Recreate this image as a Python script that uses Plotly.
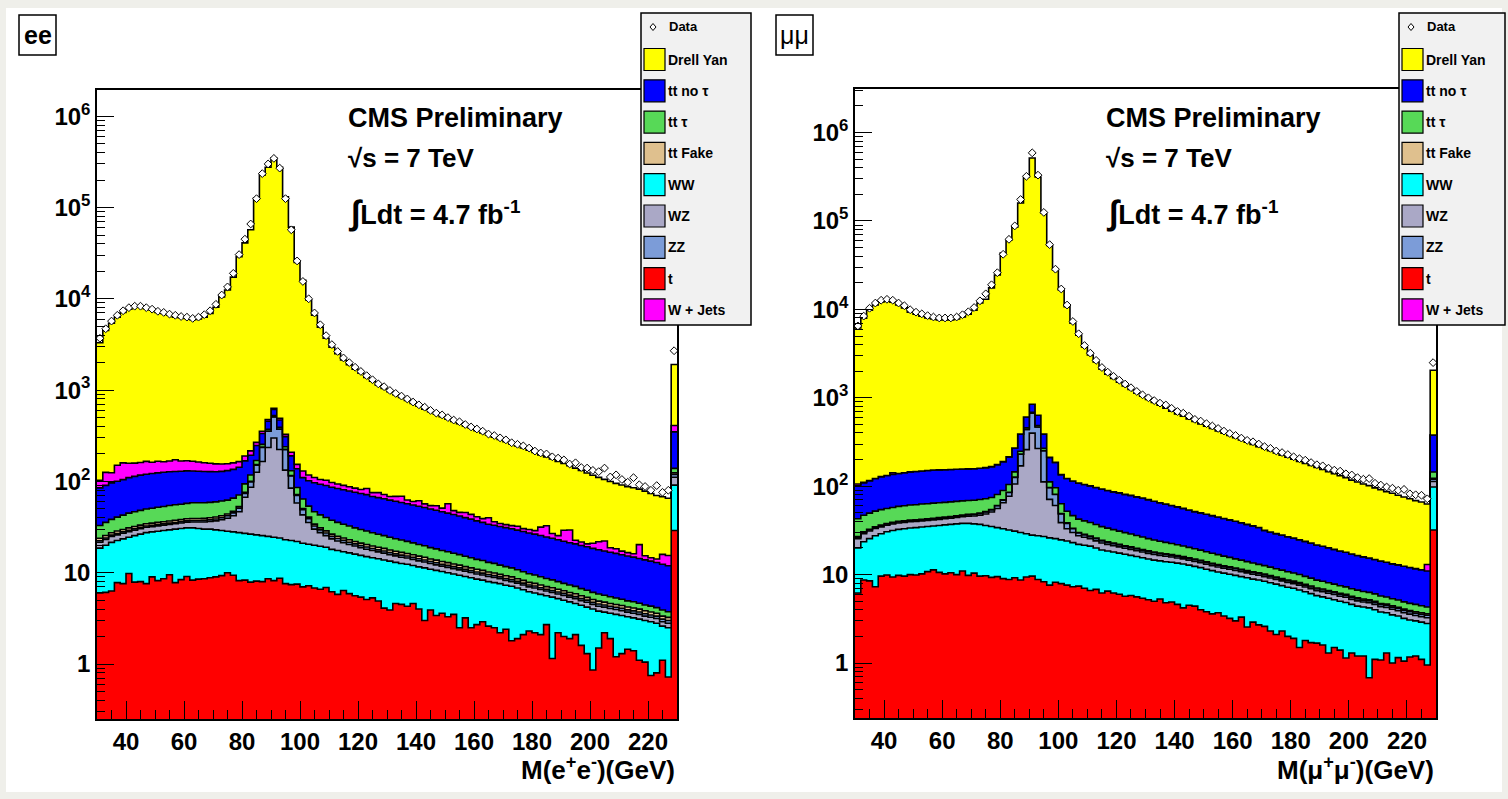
import numpy as np
import plotly.graph_objects as go

W, H = 1508, 799
FONT = "Liberation Sans"

# ---------------- data (100 bins of 2 GeV, 30-230 GeV; last bin holds overflow) ----------------
bin_edges = list(range(30, 232, 2))

ee_t = [6.0, 6.1, 6.3, 7.8, 7.6, 9.8, 7.9, 8.0, 7.6, 9.0,
        8.2, 8.6, 9.5, 7.8, 8.4, 9.1, 8.3, 8.5, 8.6, 8.8,
        9.0, 9.3, 10.0, 9.4, 8.2, 8.3, 7.9, 8.1, 8.0, 8.6,
        8.2, 8.7, 7.6, 7.4, 7.5, 7.0, 7.2, 6.8, 6.6, 6.9,
        6.2, 5.8, 6.4, 5.9, 5.6, 5.4, 5.1, 5.3, 4.9, 4.1,
        3.9, 4.6, 4.5, 4.3, 4.6, 4.0, 3.0, 3.9, 3.4, 3.6,
        3.3, 3.5, 2.5, 3.2, 2.5, 2.7, 2.9, 2.6, 2.5, 2.2,
        2.4, 1.8, 1.9, 2.1, 2.3, 2.2, 2.1, 2.7, 1.15, 2.2,
        2.0, 1.9, 2.1, 1.6, 1.3, 0.86, 1.5, 2.2, 1.9, 1.2,
        1.3, 1.45, 1.4, 1.1, 1.05, 0.75, 0.8, 1.1, 0.72, 29]
ee_ww = [12.6, 13.9, 15.2, 14.7, 15.9, 14.7, 17.6, 18.5, 19.9, 19.0,
         20.3, 20.4, 20.0, 22.2, 22.1, 21.9, 22.7, 22.0, 21.4, 21.2,
         20.5, 19.7, 18.5, 18.6, 19.3, 18.7, 18.6, 17.9, 17.5, 16.4,
         16.3, 15.3, 15.4, 15.1, 14.5, 14.0, 13.3, 13.2, 12.9, 12.1,
         11.8, 11.7, 10.6, 10.6, 10.4, 10.1, 9.9, 9.3, 9.3, 9.7,
         9.5, 8.4, 8.1, 8.1, 7.4, 7.6, 8.3, 7.0, 7.2, 6.7,
         6.7, 6.2, 6.9, 5.9, 6.3, 5.8, 5.4, 5.4, 5.3, 5.4,
         4.9, 5.3, 4.9, 4.4, 3.9, 3.8, 3.7, 2.9, 4.25, 3.0,
         3.0, 2.9, 2.5, 2.8, 2.9, 3.14, 2.3, 1.5, 1.7, 2.3,
         2.1, 1.85, 1.8, 2.0, 1.95, 2.15, 2.0, 1.5, 1.78, 62]
ee_wz = [3.0, 3.2, 3.4, 3.5, 3.6, 3.7, 3.8, 3.9, 4.0, 4.0,
         4.1, 4.2, 4.3, 4.4, 4.5, 4.8, 5.0, 5.5, 6.0, 6.5,
         7.5, 9.0, 11, 14, 19, 40, 60, 100, 140, 210,
         275, 200, 110, 62, 36, 22, 15, 10, 8.0, 6.5,
         5.5, 4.8, 4.3, 3.9, 3.6, 3.3, 3.1, 2.9, 2.7, 2.6,
         2.4, 2.3, 2.2, 2.1, 2.0, 1.9, 1.8, 1.7, 1.6, 1.5,
         1.45, 1.4, 1.35, 1.3, 1.25, 1.2, 1.15, 1.1, 1.05, 1.0,
         0.95, 0.9, 0.9, 0.85, 0.8, 0.8, 0.75, 0.7, 0.7, 0.65,
         0.65, 0.6, 0.6, 0.55, 0.55, 0.5, 0.5, 0.5, 0.45, 0.45,
         0.45, 0.4, 0.4, 0.4, 0.35, 0.35, 0.35, 0.3, 0.3, 20]
ee_zz = [0.8, 0.8, 0.9, 0.9, 0.9, 1.0, 1.0, 1.0, 1.0, 1.0,
         1.1, 1.1, 1.1, 1.1, 1.2, 1.2, 1.3, 1.3, 1.4, 1.5,
         1.7, 2.0, 2.5, 3.2, 4.5, 7, 12, 25, 70, 120,
         210, 150, 90, 30, 12, 6, 3.5, 2.5, 2.0, 1.7,
         1.5, 1.4, 1.3, 1.2, 1.1, 1.0, 1.0, 0.95, 0.9, 0.9,
         0.85, 0.8, 0.8, 0.75, 0.75, 0.7, 0.7, 0.65, 0.65, 0.6,
         0.6, 0.55, 0.55, 0.5, 0.5, 0.5, 0.45, 0.45, 0.45, 0.4,
         0.4, 0.4, 0.35, 0.35, 0.35, 0.35, 0.3, 0.3, 0.3, 0.3,
         0.3, 0.28, 0.28, 0.26, 0.26, 0.25, 0.25, 0.24, 0.24, 0.23,
         0.23, 0.22, 0.22, 0.21, 0.21, 0.2, 0.2, 0.2, 0.2, 8]
ee_ttfake = [1.5, 1.6, 1.6, 1.7, 1.7, 1.8, 1.8, 1.8, 1.9, 1.9,
             1.9, 1.9, 2.0, 2.0, 2.0, 2.0, 2.0, 2.0, 2.0, 2.0,
             2.0, 2.0, 1.9, 1.9, 1.9, 1.9, 1.8, 1.8, 1.8, 1.8,
             1.8, 1.7, 1.7, 1.7, 1.7, 1.6, 1.6, 1.6, 1.5, 1.5,
             1.5, 1.4, 1.4, 1.4, 1.3, 1.3, 1.3, 1.2, 1.2, 1.2,
             1.1, 1.1, 1.1, 1.0, 1.0, 1.0, 0.95, 0.9, 0.9, 0.85,
             0.85, 0.8, 0.8, 0.75, 0.75, 0.7, 0.7, 0.65, 0.65, 0.6,
             0.6, 0.6, 0.55, 0.55, 0.5, 0.5, 0.5, 0.45, 0.45, 0.45,
             0.4, 0.4, 0.4, 0.38, 0.36, 0.35, 0.34, 0.33, 0.32, 0.31,
             0.3, 0.3, 0.29, 0.28, 0.27, 0.26, 0.25, 0.25, 0.24, 5]
ee_tttau = [9, 10, 11, 12, 13, 14, 14.5, 15, 15.5, 16,
            16.5, 17, 17.5, 18, 18, 18.5, 19, 19, 19, 19,
            19, 19, 18.5, 18.5, 18, 18, 17.5, 17, 17, 16.5,
            16, 15.5, 15, 14.5, 14, 13.5, 13, 12.5, 12, 11.5,
            11, 10.5, 10, 9.5, 9, 8.6, 8.2, 7.8, 7.4, 7.0,
            6.7, 6.4, 6.1, 5.8, 5.5, 5.2, 5.0, 4.7, 4.5, 4.3,
            4.1, 3.9, 3.7, 3.5, 3.3, 3.1, 3.0, 2.8, 2.7, 2.5,
            2.4, 2.3, 2.2, 2.0, 1.9, 1.8, 1.7, 1.6, 1.5, 1.4,
            1.3, 1.25, 1.2, 1.1, 1.05, 1.0, 0.95, 0.9, 0.85, 0.8,
            0.75, 0.7, 0.7, 0.65, 0.6, 0.6, 0.55, 0.55, 0.5, 15]
ee_ttnotau = [52, 55, 58, 60, 62, 65, 67, 69, 70, 71,
              72, 73, 73, 73, 73, 73, 72, 71, 70, 69,
              68, 68, 69, 70, 72, 74, 76, 78, 80, 82,
              85, 80, 70, 60, 52, 46, 48, 50, 50, 50,
              49, 48, 47, 46, 45, 44, 43, 41, 40, 39,
              38, 37, 36, 35, 34, 33, 32, 31, 30, 29,
              28, 27, 26, 25, 24, 23, 22, 21, 20.5, 20,
              19.5, 19, 18.5, 18, 17.5, 17, 16.5, 16, 15.5, 15,
              14.5, 14, 13.6, 13.2, 12.8, 12.4, 12, 11.6, 11.3, 11,
              10.6, 10.3, 10, 9.7, 9.4, 9.1, 8.8, 8.5, 8.2, 210]
ee_wjets = [18, 35, 28, 50, 55, 48, 45, 44, 46, 40,
            42, 38, 40, 44, 38, 38, 36, 34, 32, 30,
            28, 26, 25, 24, 22, 22, 22, 20, 20, 20,
            20, 20, 18, 18, 16, 20, 16, 14, 12, 13,
            11, 10, 9.5, 9, 8.5, 8, 12, 7, 9, 7.5,
            6, 8, 10, 5.5, 5, 8, 5, 4.5, 6, 4.5,
            12, 4.5, 4, 5.5, 5, 4, 3.5, 6, 3, 2.5,
            2.5, 2.5, 3, 2.2, 2.5, 2.5, 6, 8, 3, 2.5,
            7, 8, 2, 1.8, 1.5, 2.5, 4, 5, 2, 2,
            1.5, 1.4, 1.3, 6, 1.5, 1.2, 1.2, 3.5, 3.5, 60]
ee_dy = [3200, 4370, 5280, 6150, 6940, 7540, 7940, 7940, 7630, 7340,
         6930, 6740, 6430, 6130, 6030, 5930, 5730, 5840, 6140, 6740,
         7940, 10350, 12340, 17140, 28840, 40810, 56780, 126730, 227650, 275520,
         347370, 275510, 130670, 60790, 24850, 15870, 9580, 6490, 4795, 3597,
         2852, 2406, 2050, 1812, 1615, 1448, 1296, 1175, 1055, 968,
         892, 821, 761, 707, 655, 604, 563, 526, 491, 459,
         423, 407, 384, 359, 341, 319, 301, 282, 269, 253,
         238, 225, 213, 202, 190, 179, 164, 153, 149, 140,
         128, 119, 117, 110, 103, 96, 89, 83, 81, 77,
         74, 71, 69, 62, 63, 59, 56, 52, 50, 1500]
ee_data = [3700, 4700, 5700, 6600, 7400, 8000, 8300, 8300, 8000, 7700,
           7300, 7100, 6800, 6600, 6400, 6300, 6100, 6300, 6700, 7400,
           8700, 11000, 13500, 19000, 30500, 45000, 66000, 125000, 235000, 300000,
           345000, 270000, 125000, 57000, 26000, 15500, 10000, 7000, 5200, 3950,
           3150, 2650, 2250, 2000, 1780, 1600, 1440, 1300, 1170, 1090,
           990, 920, 860, 800, 740, 690, 650, 600, 560, 535,
           500, 470, 450, 420, 395, 375, 355, 330, 318, 300,
           285, 265, 255, 245, 232, 215, 205, 200, 186, 180,
           172, 155, 160, 142, 140, 132, 128, 140, 112, 118,
           105, 98, 110, 92, 88, 80, 90, 76, 80, 2700]

mm_t = [6.2, 8.7, 8.5, 7.3, 9.6, 9.9, 9.4, 9.8, 9.6, 10.0,
        9.9, 10.2, 10.8, 11.3, 10.6, 10.2, 10.5, 10.0, 11.0, 9.8,
        10.4, 9.6, 9.7, 9.3, 9.5, 9.0, 8.8, 9.2, 8.7, 9.4,
        9.6, 8.8, 8.3, 7.6, 8.2, 7.9, 7.6, 7.3, 7.4, 7.0,
        6.6, 6.8, 6.2, 6.5, 6.2, 6.0, 5.7, 5.8, 5.6, 5.4,
        5.2, 5.0, 5.3, 4.8, 4.9, 4.6, 4.2, 4.5, 4.4, 4.0,
        3.8, 3.6, 3.7, 3.4, 3.2, 3.0, 3.3, 2.55, 2.9, 2.7,
        2.6, 2.3, 2.1, 2.3, 2.0, 1.9, 1.5, 1.8, 1.7, 1.68,
        1.6, 1.3, 1.5, 1.4, 1.14, 1.3, 1.2, 1.2, 0.68, 1.1,
        1.08, 1.3, 1.0, 1.15, 1.05, 1.17, 1.2, 1.1, 0.95, 32]
mm_ww = [13.8, 14.8, 17.0, 20.2, 19.4, 20.6, 22.1, 22.7, 23.4, 23.7,
         24.1, 24.3, 24.2, 24.2, 25.4, 26.3, 26.5, 27.5, 27.0, 28.2,
         27.1, 27.4, 26.3, 25.7, 24.5, 24.0, 23.2, 21.8, 21.3, 19.6,
         18.4, 18.7, 18.7, 18.4, 17.3, 16.8, 16.4, 15.7, 14.6, 14.5,
         14.4, 13.2, 12.8, 12.0, 11.8, 11.5, 11.3, 10.7, 10.4, 10.1,
         9.8, 9.6, 9.0, 9.2, 8.9, 8.9, 9.0, 8.3, 8.0, 8.0,
         7.7, 7.5, 7.0, 7.0, 6.9, 6.8, 6.2, 6.65, 6.0, 6.0,
         5.8, 5.8, 5.7, 5.2, 5.2, 5.1, 5.2, 4.6, 4.4, 4.1,
         4.0, 4.1, 3.7, 3.6, 3.7, 3.3, 3.2, 3.1, 3.52, 2.9,
         2.7, 2.4, 2.5, 2.25, 2.15, 1.9, 1.8, 1.8, 1.85, 66]
mm_wz = [5.5, 5.6, 5.6, 5.7, 5.7, 5.8, 5.8, 5.9, 5.9, 6.0,
         6.0, 6.0, 6.1, 6.1, 6.2, 6.3, 6.5, 6.8, 7.2, 7.8,
         8.6, 10, 12.5, 16, 22, 32, 45, 75, 140, 230,
         370, 240, 85, 45, 35, 14, 9, 7, 5.5, 5.0,
         4.5, 4.1, 3.8, 3.5, 3.3, 3.1, 2.9, 2.8, 2.6, 2.5,
         2.4, 2.3, 2.2, 2.1, 2.0, 1.9, 1.85, 1.8, 1.7, 1.65,
         1.6, 1.55, 1.5, 1.45, 1.4, 1.35, 1.3, 1.25, 1.2, 1.15,
         1.1, 1.05, 1.0, 1.0, 0.95, 0.9, 0.9, 0.85, 0.85, 0.8,
         0.8, 0.75, 0.75, 0.7, 0.7, 0.65, 0.65, 0.6, 0.6, 0.6,
         0.55, 0.55, 0.55, 0.5, 0.5, 0.5, 0.45, 0.45, 0.45, 15]
mm_zz = [0.9, 0.9, 1.0, 1.0, 1.0, 1.0, 1.1, 1.1, 1.1, 1.1,
         1.2, 1.2, 1.2, 1.2, 1.3, 1.3, 1.4, 1.4, 1.5, 1.6,
         1.7, 2.0, 2.5, 3.0, 4.0, 4.5, 8, 20, 60, 180,
         270, 200, 140, 25, 20, 10, 5, 3, 2, 1.6,
         1.4, 1.3, 1.2, 1.1, 1.05, 1.0, 0.95, 0.9, 0.9, 0.85,
         0.8, 0.8, 0.75, 0.75, 0.7, 0.7, 0.65, 0.65, 0.6, 0.6,
         0.55, 0.55, 0.55, 0.5, 0.5, 0.48, 0.46, 0.44, 0.42, 0.4,
         0.4, 0.38, 0.36, 0.35, 0.34, 0.33, 0.32, 0.31, 0.3, 0.3,
         0.29, 0.28, 0.28, 0.27, 0.27, 0.26, 0.26, 0.25, 0.25, 0.25,
         0.24, 0.24, 0.24, 0.23, 0.23, 0.23, 0.22, 0.22, 0.22, 7]
mm_ttfake = [0.5, 0.5, 0.55, 0.55, 0.6, 0.6, 0.6, 0.6, 0.6, 0.6,
             0.6, 0.6, 0.6, 0.6, 0.6, 0.6, 0.6, 0.6, 0.6, 0.6,
             0.6, 0.6, 0.58, 0.58, 0.56, 0.56, 0.55, 0.55, 0.54, 0.54,
             0.53, 0.52, 0.52, 0.51, 0.5, 0.5, 0.49, 0.48, 0.47, 0.46,
             0.45, 0.44, 0.43, 0.42, 0.41, 0.4, 0.39, 0.38, 0.37, 0.36,
             0.35, 0.34, 0.33, 0.32, 0.31, 0.3, 0.3, 0.29, 0.28, 0.28,
             0.27, 0.26, 0.26, 0.25, 0.25, 0.24, 0.24, 0.23, 0.23, 0.22,
             0.22, 0.21, 0.21, 0.2, 0.2, 0.2, 0.19, 0.19, 0.18, 0.18,
             0.18, 0.17, 0.17, 0.17, 0.16, 0.16, 0.16, 0.15, 0.15, 0.15,
             0.15, 0.14, 0.14, 0.14, 0.14, 0.13, 0.13, 0.13, 0.13, 3]
mm_tttau = [16, 16.5, 17, 17.5, 18, 18, 18.5, 19, 19.5, 20,
            20, 20.5, 20.5, 21, 21, 21, 21, 21, 21, 21,
            21, 21, 20.5, 20, 20, 19.5, 19, 18.5, 18, 17.5,
            17, 16.5, 16, 15.5, 15, 14, 13.5, 13, 12.5, 12,
            11.5, 11, 10.5, 10, 9.5, 9, 8.6, 8.2, 7.8, 7.4,
            7, 6.6, 6.3, 6, 5.7, 5.4, 5.1, 4.8, 4.6, 4.4,
            4.2, 4.0, 3.8, 3.6, 3.4, 3.2, 3.1, 2.9, 2.8, 2.6,
            2.5, 2.4, 2.3, 2.2, 2.1, 2.0, 1.9, 1.8, 1.7, 1.6,
            1.55, 1.5, 1.4, 1.35, 1.3, 1.25, 1.2, 1.15, 1.1, 1.05,
            1.0, 0.95, 0.9, 0.9, 0.85, 0.8, 0.8, 0.75, 0.7, 22]
mm_ttnotau = [58, 62, 66, 70, 74, 76, 78, 80, 82, 84,
              85, 86, 87, 88, 88, 88, 88, 88, 88, 88,
              88, 89, 90, 92, 95, 100, 110, 125, 140, 150,
              160, 150, 120, 100, 90, 72, 70, 68, 66, 64,
              62, 60, 58, 56, 54, 53, 51, 50, 48, 47,
              45, 43, 41, 39.5, 38, 36.5, 35, 33.5, 32, 31,
              30, 29, 28, 27, 26, 25, 24, 23, 22, 21,
              19, 18.2, 17.4, 16.7, 16, 15.4, 14.8, 14.2, 13.6, 13,
              12.5, 12, 11.5, 11, 10.6, 10.2, 9.8, 9.4, 9.1, 8.8,
              8.5, 8.2, 7.9, 7.7, 7.5, 7.3, 7.1, 6.9, 6.7, 235]
mm_wjets = [5, 2, 0, 0, 0, 0, 6, 0, 0, 0,
            0, 0, 0, 0, 0, 0, 0, 0, 0, 0,
            0, 0, 0, 0, 0, 0, 0, 0, 0, 0,
            0, 0, 0, 0, 0, 0, 0, 0, 0, 0,
            0, 0, 0, 0, 0, 0, 0, 0, 0, 0,
            0, 0, 0, 0, 0, 0, 0, 0, 0, 0,
            0, 0, 0, 0, 0, 0, 0, 0, 0, 0,
            0, 0, 0, 0, 0, 0, 0, 0, 0, 0,
            0, 0, 0, 0, 0, 0, 0, 0, 0, 0,
            0, 0, 0, 0, 0, 0, 0, 0, 2, 0]
mm_dy = [6044, 7839, 9684, 11078, 11972, 12268, 11958, 11061, 10258, 9155,
         8653, 8251, 7850, 7648, 7447, 7446, 7445, 7645, 8044, 8643,
         9643, 11640, 12838, 17333, 24324, 43310, 60785, 84730, 159611, 314393,
         514154, 314365, 122611, 52788, 27814, 16465, 10578, 6886, 4992, 3645,
         2949, 2453, 2007, 1760, 1564, 1416, 1279, 1161, 1054, 966,
         888, 821, 758, 701, 647, 599, 562, 524, 490, 457,
         429, 403, 377, 354, 333, 313, 294, 278, 261, 246,
         235, 222, 209, 197, 186, 176, 166, 157, 149, 141,
         134, 126, 119, 113, 107, 100, 95, 90, 86, 81,
         77, 73, 70, 66, 63, 60, 57, 55, 50, 1670]
mm_data = [6500, 8400, 10300, 11800, 12700, 13000, 12700, 11800, 11000, 9900,
           9300, 8900, 8500, 8200, 8000, 8000, 8000, 8200, 8700, 9400,
           10500, 12500, 15000, 19000, 26000, 42000, 62000, 88000, 175000, 320000,
           590000, 330000, 125000, 54000, 28500, 17000, 11200, 7300, 5300, 3900,
           3200, 2650, 2200, 1950, 1750, 1580, 1430, 1300, 1180, 1080,
           1000, 930, 870, 830, 760, 700, 670, 620, 570, 545,
           510, 480, 450, 420, 395, 375, 350, 330, 318, 300,
           280, 268, 250, 240, 228, 215, 205, 197, 185, 175,
           170, 160, 152, 148, 138, 134, 125, 120, 122, 108,
           103, 98, 95, 90, 92, 82, 80, 79, 72, 2500]

x_tick_vals = [40, 60, 80, 100, 120, 140, 160, 180, 200, 220]
y_tick_vals = [1, 10, 100, 1000, 10000, 100000, 1000000]
y_tick_text = ["1", "10", "10<sup>2</sup>", "10<sup>3</sup>", "10<sup>4</sup>",
               "10<sup>5</sup>", "10<sup>6</sup>"]

# stacking order (bottom -> top) and colours
stack_names = ["t", "WW", "WZ", "ZZ", "tt Fake", "tt \u03c4", "tt no \u03c4", "W + Jets", "Drell Yan"]
stack_colors = ["#ff0000", "#00ffff", "#aaa8c6", "#7c9cd8", "#dfc08e", "#57d957",
                "#0000ff", "#ff00ff", "#ffff00"]
legend_names = ["Drell Yan", "tt no \u03c4", "tt \u03c4", "tt Fake", "WW", "WZ", "ZZ", "t", "W + Jets"]
legend_colors = ["#ffff00", "#0000ff", "#57d957", "#dfc08e", "#00ffff", "#aaa8c6",
                 "#7c9cd8", "#ff0000", "#ff00ff"]

panels = [
    dict(xa="x", ya="y",
         comps=[ee_t, ee_ww, ee_wz, ee_zz, ee_ttfake, ee_tttau, ee_ttnotau, ee_wjets, ee_dy],
         data=ee_data, xpx=(97, 677), ypx=(90, 719), yrange=(-0.602, 6.287),
         tag="ee", tagbold=True, tagbox=(19, 15, 56, 55),
         xtitle="M(e<sup>+</sup>e<sup>-</sup>)(GeV)", legx=641, textx=346),
    dict(xa="x2", ya="y2",
         comps=[mm_t, mm_ww, mm_wz, mm_zz, mm_ttfake, mm_tttau, mm_ttnotau, mm_wjets, mm_dy],
         data=mm_data, xpx=(855, 1436), ypx=(89, 718), yrange=(-0.622, 6.493),
         tag="\u03bc\u03bc", tagbold=False, tagbox=(776, 15, 813, 55),
         xtitle="M(\u03bc<sup>+</sup>\u03bc<sup>-</sup>)(GeV)", legx=1399, textx=1104),
]


def fx(p):
    return p / W


def fy(p):
    return 1 - p / H


fig = go.Figure()
shapes = []
annotations = []
edges = np.array(bin_edges, dtype=float)
centers = edges[:-1] + 1.0

for k, p in enumerate(panels):
    xa, ya = p["xa"], p["ya"]
    fig.add_trace(go.Scatter(x=edges, y=np.full(len(edges), 1e-3), mode="lines",
                             line=dict(width=0, shape="hv"), hoverinfo="skip",
                             showlegend=False, xaxis=xa, yaxis=ya))
    cum = np.zeros(len(edges) - 1)
    for name, vals, col in zip(stack_names, p["comps"], stack_colors):
        cum = cum + np.array(vals, dtype=float)
        fig.add_trace(go.Scatter(x=edges, y=np.append(cum, cum[-1]), mode="lines",
                                 line=dict(color="black", width=1.6, shape="hv"),
                                 fill="tonexty", fillcolor=col, name=name,
                                 showlegend=False, xaxis=xa, yaxis=ya))
    fig.add_trace(go.Scatter(x=centers, y=p["data"], mode="markers", name="Data",
                             marker=dict(symbol="diamond", size=6, color="white",
                                         line=dict(color="black", width=1)),
                             showlegend=False, xaxis=xa, yaxis=ya))

    x0, x1 = p["xpx"]
    y0, y1 = p["ypx"]
    xkey = "xaxis" if k == 0 else "xaxis2"
    ykey = "yaxis" if k == 0 else "yaxis2"
    ylo = 10 ** p["yrange"][0]
    yhi = 10 ** p["yrange"][1]
    yminor = [m * 10 ** d for d in range(-1, 7) for m in range(2, 10) if ylo < m * 10 ** d < yhi]
    fig.update_layout({
        xkey: dict(domain=[fx(x0), fx(x1)], range=[30, 230], anchor=ya,
                   tickmode="array", tickvals=x_tick_vals,
                   ticks="inside", ticklen=18, tickwidth=1.3, tickcolor="black",
                   showline=True, mirror=True, linecolor="black", linewidth=1.5,
                   showgrid=False, zeroline=False,
                   tickfont=dict(family=FONT, size=24, color="black", weight="bold"),
                   minor=dict(tickmode="array",
                              tickvals=[v for v in range(35, 231, 5) if v % 20 != 0],
                              ticks="inside", ticklen=9, tickwidth=1.3, tickcolor="black")),
        ykey: dict(domain=[fy(y1), fy(y0)], type="log", range=list(p["yrange"]), anchor=xa,
                   tickmode="array", tickvals=y_tick_vals, ticktext=y_tick_text,
                   ticks="inside", ticklen=17, tickwidth=1.3, tickcolor="black",
                   showline=True, mirror=True, linecolor="black", linewidth=1.5,
                   showgrid=False, zeroline=False,
                   tickfont=dict(family=FONT, size=24, color="black", weight="bold"),
                   minor=dict(tickmode="array", tickvals=yminor,
                              ticks="inside", ticklen=8, tickwidth=1.3, tickcolor="black")),
    })

    # channel tag box
    bx0, by0, bx1, by1 = p["tagbox"]
    shapes.append(dict(type="rect", xref="paper", yref="paper", x0=fx(bx0), x1=fx(bx1),
                       y0=fy(by1), y1=fy(by0), line=dict(color="black", width=1.5),
                       fillcolor="white", layer="above"))
    annotations.append(dict(xref="paper", yref="paper", x=fx((bx0 + bx1) / 2), y=fy((by0 + by1) / 2),
                            text=p["tag"], showarrow=False, xanchor="center", yanchor="middle",
                            font=dict(family=FONT, size=25, color="black",
                                      weight="bold" if p["tagbold"] else "normal")))

    # CMS labels
    tx = p["textx"]
    annotations.append(dict(xref="paper", yref="paper", x=fx(tx), y=fy(118), text="CMS Preliminary",
                            showarrow=False, xanchor="left", yanchor="middle",
                            font=dict(family=FONT, size=27, color="black", weight="bold")))
    annotations.append(dict(xref="paper", yref="paper", x=fx(tx), y=fy(158), text="\u221as = 7 TeV",
                            showarrow=False, xanchor="left", yanchor="middle",
                            font=dict(family=FONT, size=26, color="black", weight="bold")))
    annotations.append(dict(xref="paper", yref="paper", x=fx(tx), y=fy(212),
                            text="<span style='font-size:34px'>\u222b</span>Ldt = 4.7 fb<sup>-1</sup>",
                            showarrow=False, xanchor="left", yanchor="middle",
                            font=dict(family=FONT, size=27, color="black", weight="bold")))
    # axis title
    annotations.append(dict(xref="paper", yref="paper", x=fx(x1), y=fy(768), text=p["xtitle"],
                            showarrow=False, xanchor="right", yanchor="middle",
                            font=dict(family=FONT, size=26, color="black", weight="bold")))

    # legend box
    lx = p["legx"]
    lw = 110 if k == 0 else 106
    shapes.append(dict(type="rect", xref="paper", yref="paper", x0=fx(lx), x1=fx(lx + lw),
                       y0=fy(325), y1=fy(13), line=dict(color="black", width=1.5),
                       fillcolor="#f1f1f1", layer="above"))
    # data entry (open diamond)
    cx, cy = lx + 12, 27
    shapes.append(dict(type="path", xref="paper", yref="paper",
                       path=f"M {fx(cx)} {fy(cy - 3.5)} L {fx(cx + 3)} {fy(cy)} L {fx(cx)} {fy(cy + 3.5)} L {fx(cx - 3)} {fy(cy)} Z",
                       line=dict(color="black", width=1), fillcolor="white", layer="above"))
    annotations.append(dict(xref="paper", yref="paper", x=fx(lx + 26), y=fy(cy), text="Data",
                            showarrow=False, xanchor="left", yanchor="middle",
                            font=dict(family=FONT, size=13, color="black", weight="bold")))
    for j, (nm, col) in enumerate(zip(legend_names, legend_colors)):
        yc = 59.5 + j * 31.3
        shapes.append(dict(type="rect", xref="paper", yref="paper", x0=fx(lx + 3), x1=fx(lx + 24),
                           y0=fy(yc + 11), y1=fy(yc - 11), line=dict(color="black", width=1.2),
                           fillcolor=col, layer="above"))
        annotations.append(dict(xref="paper", yref="paper", x=fx(lx + 25), y=fy(yc), text=nm,
                                showarrow=False, xanchor="left", yanchor="middle",
                                font=dict(family=FONT, size=14, color="black", weight="bold")))

# light grey page border
border = "#efefea"
for (a, b, c, d) in [(0, 0, W, 8), (0, 0, 6, H), (1502, 0, W, H), (0, 792, W, H)]:
    shapes.append(dict(type="rect", xref="paper", yref="paper", x0=fx(a), x1=fx(c),
                       y0=fy(d), y1=fy(b), line=dict(width=0), fillcolor=border, layer="below"))

fig.update_layout(width=W, height=H, margin=dict(l=0, r=0, t=0, b=0),
                  paper_bgcolor="white", plot_bgcolor="white",
                  shapes=shapes, annotations=annotations, showlegend=False,
                  font=dict(family=FONT, color="black"))

fig.write_html("out.html", config={"displayModeBar": False},
               post_script="document.body.style.margin='0';document.body.style.overflow='hidden';")
